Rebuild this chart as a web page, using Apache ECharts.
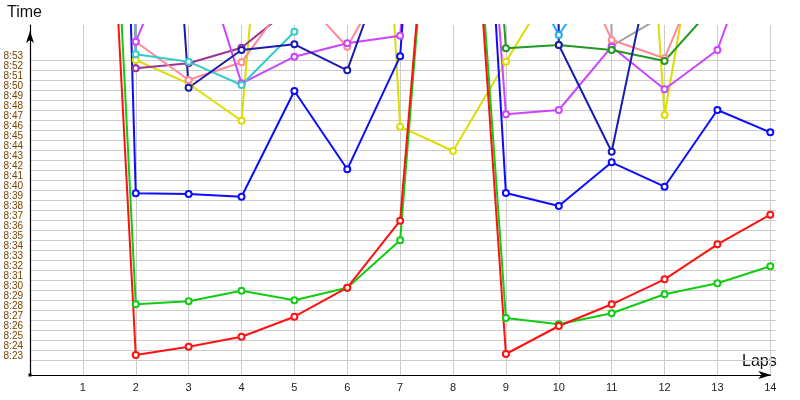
<!DOCTYPE html>
<html>
<head>
<meta charset="utf-8">
<script src="https://cdn.jsdelivr.net/npm/echarts@6/dist/echarts.min.js"></script>
<style>html,body{margin:0;padding:0;background:#fff}#c{width:800px;height:400px}</style>
</head>
<body>
<div id="c"></div>
<script>
// Values: minutes after 8:00 (e.g. 23.5 = 8:23:30). Off-chart values estimated from line angles.
const laps = [1,2,3,4,5,6,7,8,9,10,11,12,13,14];
const yTickMinutes = [23,53]; // tick label range 8:23 .. 8:53
const red    = [124.4, 23.5, 24.33, 25.33, 27.33, 30.23, 36.93, 100.8, 23.6, 26.4, 28.57, 31.07, 34.57, 37.53];
const green  = [134.1, 28.57, 28.87, 29.93, 28.97, 30.23, 34.97, 101.5, 27.2, 26.57, 27.67, 29.57, 30.67, 32.37];
const blue   = [225, 39.67, 39.6, 39.33, 49.9, 42.07, 53.37, 129, 39.7, 38.4, 42.77, 40.33, 48, 45.77];
const navy   = [null, 127.4, 50.23, 54, 54.57, 51.97, 66.7, null, 600, 54.5, 43.83, 69, null, null];
const violet = [null, 54.83, 67.5, 50.67, 53.33, 54.67, 55.43, 119, 47.57, 48, 54.33, 50.07, 54, 68.7];
const pink   = [600, 54.83, 51, 52.77, 60, 54.33, 63.7, null, null, 66.8, 55, 53.17, 65.8, null];
const cyan   = [600, 53.57, 52.83, 50.5, 55.83, null, null, null, null, null, null, null, null, null];
const purple = [600, 52.17, 52.67, 54.23, 58.47, null, null, null, null, null, null, null, null, null];
const yellow = [null, 53, 50.63, 46.93, 107.9, 139, 46.33, 43.9, 52.83, 61.5, 126.8, 47.5, 77.8, null];
const darkGreen = [null, null, null, null, null, null, null, 126.7, 54.17, 54.5, 54, 52.9, 58.8, null];
const gray   = [null, null, null, null, null, null, null, null, null, 600, 54.4, 57.5, null, null];
const sky    = [null, null, null, null, null, null, null, null, 65.5, 55.5, 63.4, null, null, null];

const seriesDefs = [
  {name:'Yellow', data:yellow, color:'#dddd00'},
  {name:'Gray', data:gray, color:'#a0a0a0'},
  {name:'Sky', data:sky, color:'#22aaff'},
  {name:'Purple', data:purple, color:'#993399'},
  {name:'Pink', data:pink, color:'#ff8899'},
  {name:'Violet', data:violet, color:'#cc44ff'},
  {name:'Cyan', data:cyan, color:'#33cccc'},
  {name:'DarkGreen', data:darkGreen, color:'#229922'},
  {name:'Navy', data:navy, color:'#1c1caa'},
  {name:'Blue', data:blue, color:'#0c0cff'},
  {name:'Green', data:green, color:'#11cc11'},
  {name:'Red', data:red, color:'#ff1111'}
];

const chart = echarts.init(document.getElementById('c'), null, {renderer:'canvas'});
const font = 'Liberation Sans, Arial, sans-serif';
chart.setOption({
  animation:false,
  backgroundColor:'#fff',
  grid:[
    {left:30, right:29.7, top:25, bottom:25},
    {left:30, right:24, top:60, bottom:40}
  ],
  xAxis:[
    {gridIndex:0, type:'value', min:0, max:14, interval:1,
     axisLine:{show:true, lineStyle:{color:'#000', width:1.2}, symbol:['none','arrow'], symbolSize:[6,13], symbolOffset:[0,1]},
     axisTick:{show:false},
     axisLabel:{color:'#222', fontSize:11, fontFamily:font, margin:7, showMinLabel:true, showMaxLabel:true, formatter:v=> v===0?'':String(v)},
     splitLine:{show:true, lineStyle:{color:'#cccccc', width:1}}},
    {gridIndex:1, type:'value', min:0, max:1, show:false}
  ],
  yAxis:[
    {gridIndex:0, type:'value', min:21.5, max:56.5,
     axisLine:{show:true, lineStyle:{color:'#000', width:1.2}, symbol:['none','arrow'], symbolSize:[6,12], symbolOffset:[0,-6]},
     axisTick:{show:false}, axisLabel:{show:false}, splitLine:{show:false}},
    {gridIndex:1, type:'value', min:yTickMinutes[0], max:yTickMinutes[1], interval:1,
     axisLine:{show:false}, axisTick:{show:false},
     axisLabel:{color:'#7a4400', fontSize:10, fontFamily:font, margin:7, verticalAlign:'bottom', lineHeight:8,
       showMinLabel:true, showMaxLabel:true, hideOverlap:false,
       formatter:v=>'8:'+String(v).padStart(2,'0')},
     splitLine:{show:true, lineStyle:{color:'#cccccc', width:1}}}
  ],
  graphic:[
    {type:'text', left:7, top:5, style:{text:'Time', fontSize:16, fontFamily:font, fill:'#111'}},
    {type:'text', left:742, top:354, style:{text:'Laps', fontSize:16, fontFamily:font, fill:'#111'}},
    {type:'rect', shape:{x:28.5, y:373.5, width:3, height:3}, style:{fill:'#000'}}
  ],
  series: seriesDefs.map(s=>({
    type:'line', name:s.name, xAxisIndex:0, yAxisIndex:0,
    data: laps.map((l,i)=>[l, s.data[i]]),
    connectNulls:false, clip:true,
    symbol:'emptyCircle', symbolSize:6, showAllSymbol:true,
    lineStyle:{color:s.color, width:2},
    itemStyle:{color:s.color, borderColor:s.color, borderWidth:1}
  }))
});
</script>
</body>
</html>
